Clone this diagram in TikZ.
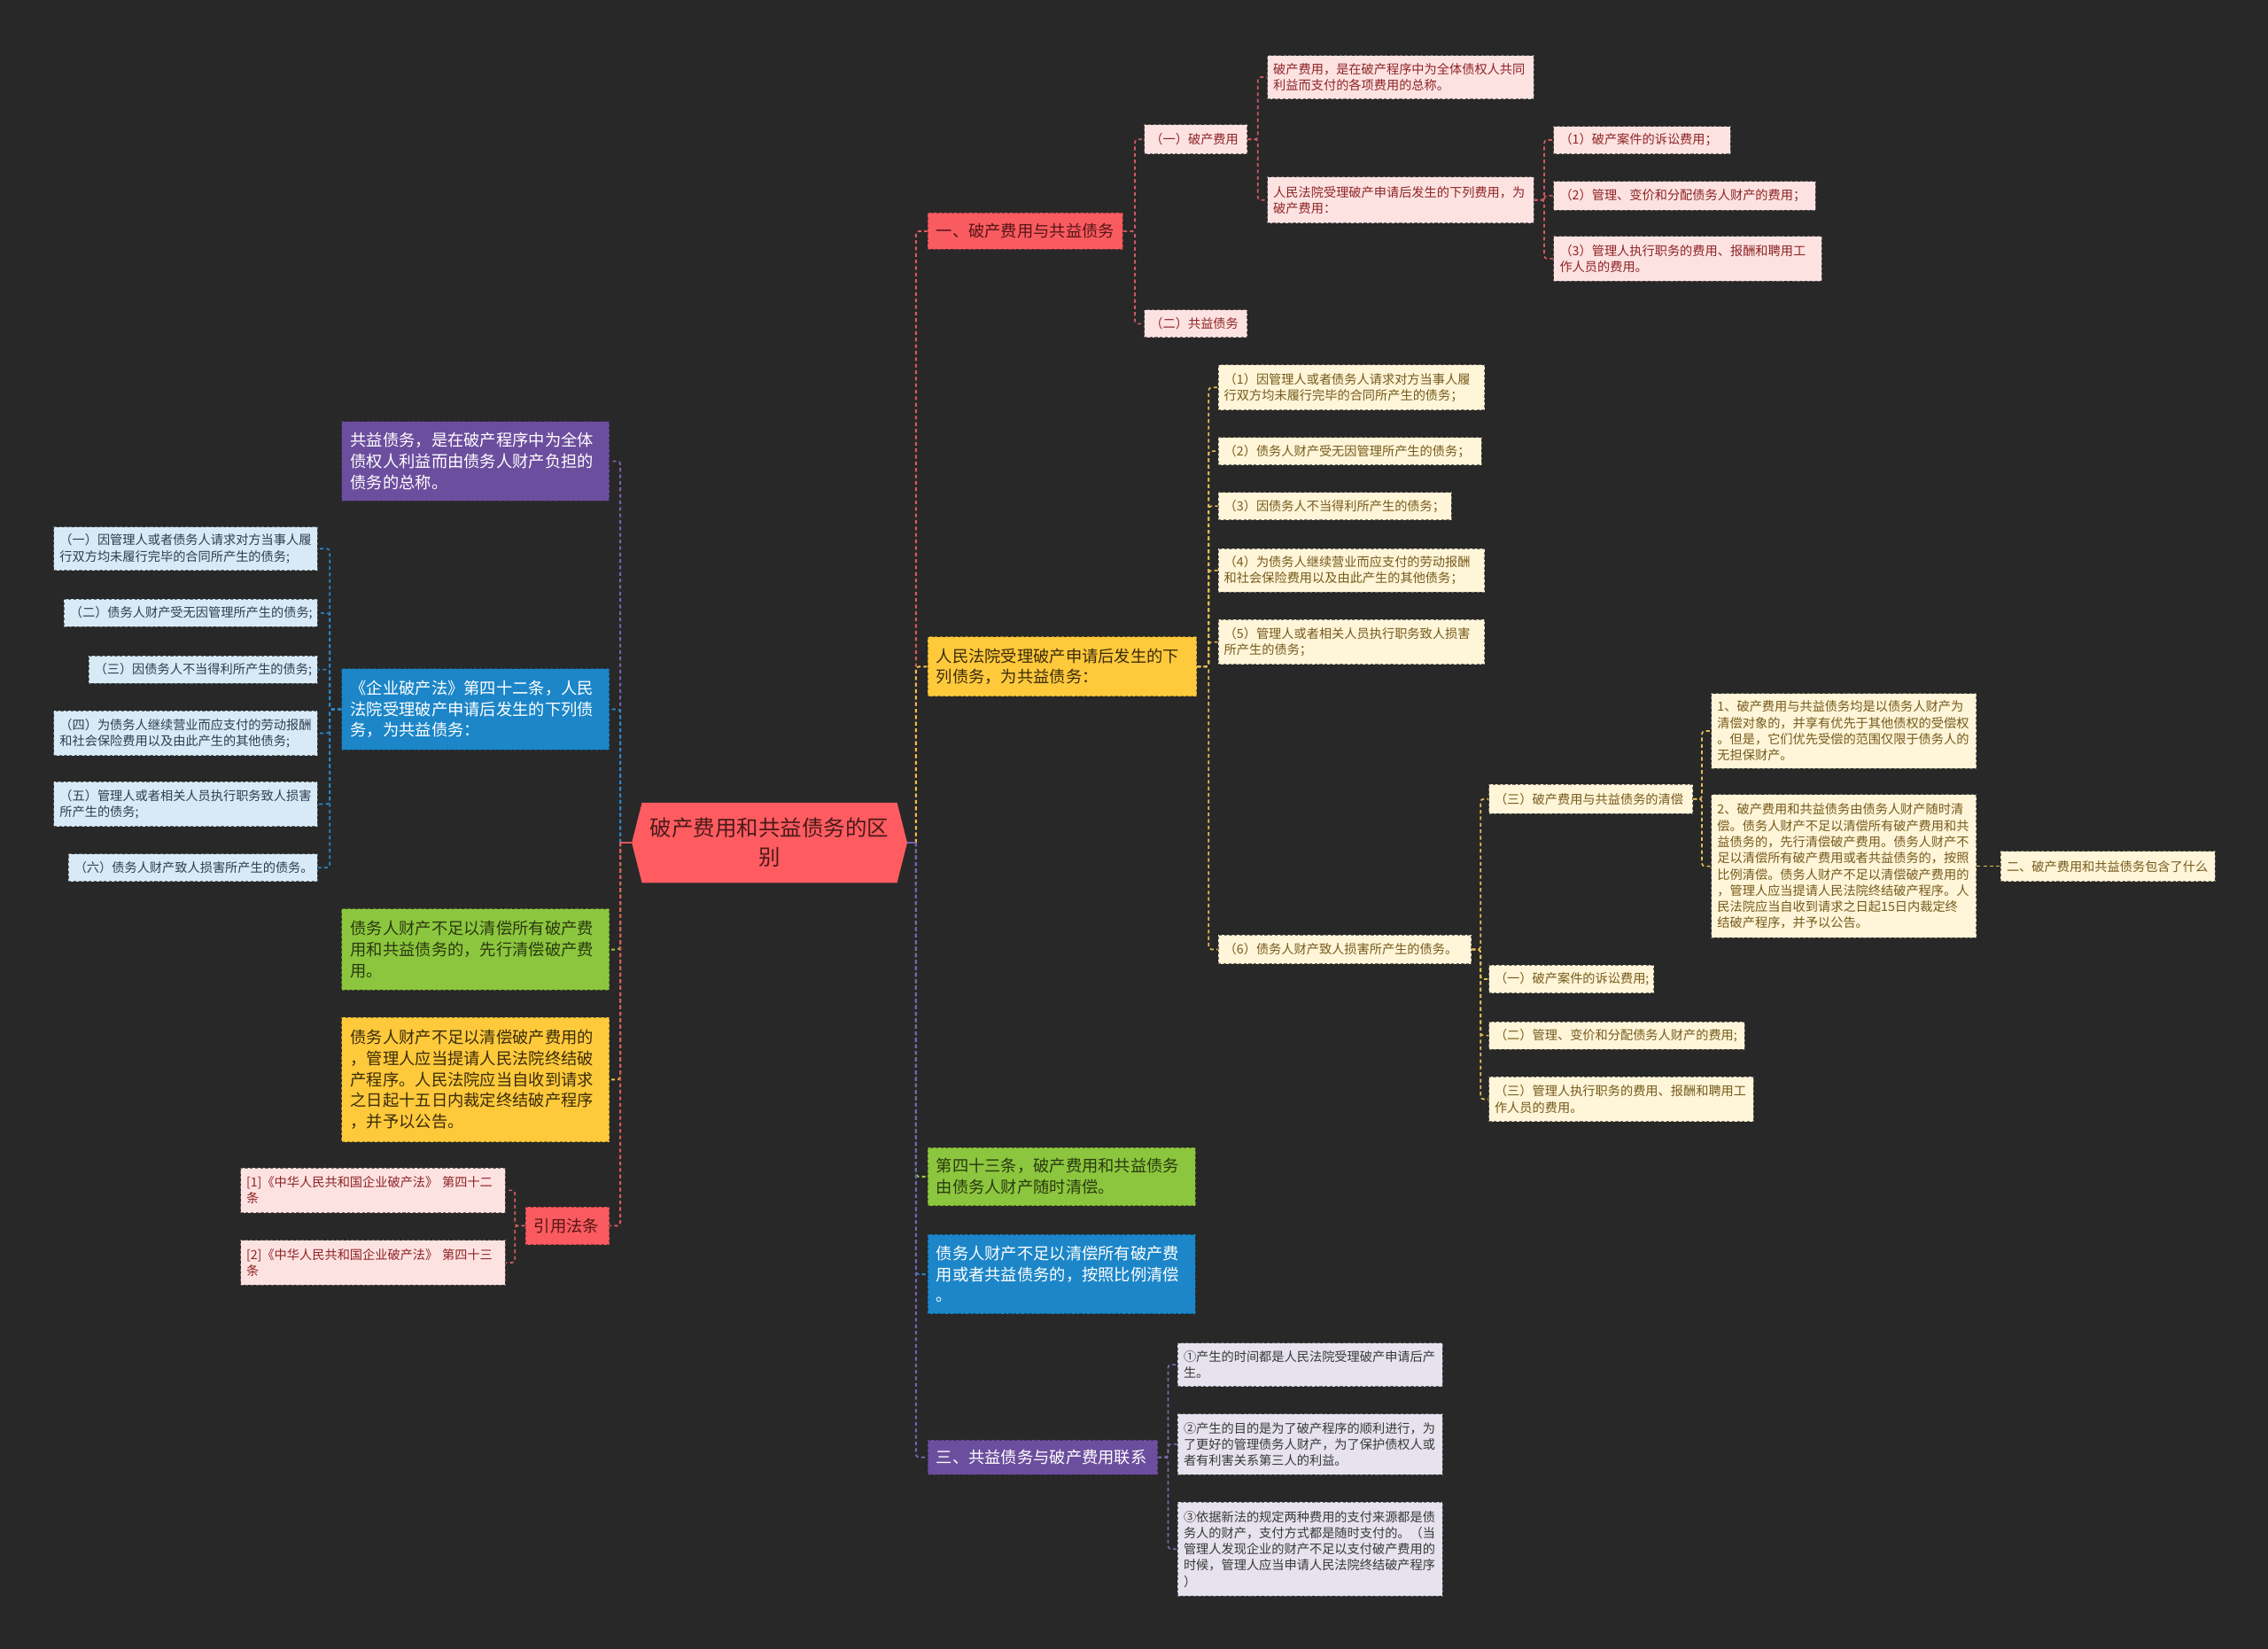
\documentclass[tikz,border=0pt]{standalone}
\usepackage{fontspec}
\setmainfont{Noto Sans CJK SC}
\usetikzlibrary{backgrounds}
\definecolor{bgc}{HTML}{282828}
\definecolor{cCen}{HTML}{FF5C61}
\definecolor{cRed}{HTML}{F95B60}
\definecolor{cPink}{HTML}{FDE2E2}
\definecolor{tPink}{HTML}{8E2424}
\definecolor{cYel}{HTML}{FFC93C}
\definecolor{cLY}{HTML}{FFF5D8}
\definecolor{tLY}{HTML}{765A1C}
\definecolor{cGrn}{HTML}{8CC63E}
\definecolor{cBlu}{HTML}{1C86C8}
\definecolor{cLB}{HTML}{D8EAF6}
\definecolor{tLB}{HTML}{2C3E50}
\definecolor{cPur}{HTML}{6C4E9E}
\definecolor{cLav}{HTML}{E6E2EE}
\definecolor{tLav}{HTML}{383838}
\definecolor{tRed}{HTML}{561515}
\definecolor{tYel}{HTML}{3A2C0A}
\definecolor{tGrn}{HTML}{2A3A10}
\definecolor{tCen}{HTML}{4A1A1A}
\definecolor{lRed}{HTML}{E0575E}
\definecolor{lRed2}{HTML}{D05A62}
\definecolor{lYel}{HTML}{F2C241}
\definecolor{lYel2}{HTML}{E3BE55}
\definecolor{lGrn}{HTML}{9ACD3C}
\definecolor{lBlu}{HTML}{2A88CC}
\definecolor{lPur}{HTML}{7563AE}
\definecolor{lPur2}{HTML}{7B6AA6}
\tikzset{
  base/.style={anchor=north west, align=left, inner ysep=0pt, dash pattern=on 2pt off 1.5pt, line width=0.6pt},
  sm/.style={base, inner xsep=4pt, font=\fontsize{8.7}{11.2}\selectfont},
  lg/.style={base, inner xsep=6pt, font=\fontsize{11.2}{14.5}\selectfont},
  cnode/.style={align=center, inner xsep=8pt, inner ysep=0pt, text=tCen, font=\fontsize{15}{20.4}\selectfont},
  redb/.style={fill=cRed, draw=cRed!60!black, text=tRed},
  pinkb/.style={fill=cPink, draw=cPink!45!black, text=tPink},
  yelb/.style={fill=cYel, draw=cYel!60!black, text=tYel},
  lyb/.style={fill=cLY, draw=cLY!45!black, text=tLY},
  grnb/.style={fill=cGrn, draw=cGrn!60!black, text=tGrn},
  blub/.style={fill=cBlu, draw=cBlu!60!black, text=white},
  lbb/.style={fill=cLB, draw=cLB!45!black, text=tLB},
  purb/.style={fill=cPur, draw=cPur!60!black, text=white},
  lavb/.style={fill=cLav, draw=cLav!45!black, text=tLav},
  conn/.style={dash pattern=on 2.5pt off 2pt, line width=1pt, rounded corners=2pt},
  mconn/.style={conn, line width=1.2pt},
}
\begin{document}
\begin{tikzpicture}[x=1pt, y=-1pt]
\begin{scope}[on background layer]
\fill[bgc] (0,0) rectangle (1568,1139.86);
\end{scope}
\useasboundingbox (0,0) rectangle (1568,1139.86);

% center
\node[cnode, text width=174pt, minimum width=190pt, minimum height=55pt] (c) at (532,582.5) {破产费用和共益债务的区\\别};

% right level 1
\node[lg, redb, text width=123pt, minimum height=25pt] (r1) at (641,147) {一、破产费用与共益债务};
\node[lg, yelb, text width=174pt, minimum height=41pt] (r2) at (641,440) {人民法院受理破产申请后发生的下\\列债务，为共益债务：};
\node[lg, grnb, text width=173pt, minimum height=40pt] (r3) at (641,793) {第四十三条，破产费用和共益债务\\由债务人财产随时清偿。};
\node[lg, blub, text width=173pt, minimum height=55pt] (r4) at (641,853) {债务人财产不足以清偿所有破产费\\用或者共益债务的，按照比例清偿\\。};
\node[lg, purb, text width=147pt, minimum height=24pt] (r5) at (641,995) {三、共益债务与破产费用联系};

% R1 group
\node[sm, pinkb, text width=63pt, minimum height=20pt] (r1a) at (791,86) {（一）破产费用};
\node[sm, pinkb, text width=63pt, minimum height=19pt] (r1b) at (791,214) {（二）共益债务};
\node[sm, pinkb, text width=176pt, minimum height=30pt] (r1a1) at (876,38) {破产费用，是在破产程序中为全体债权人共同\\利益而支付的各项费用的总称。};
\node[sm, pinkb, text width=176pt, minimum height=32pt] (r1a2) at (876,122) {人民法院受理破产申请后发生的下列费用，为\\破产费用：};
\node[sm, pinkb, text width=114pt, minimum height=19pt] (f1) at (1074,87) {（1）破产案件的诉讼费用；};
\node[sm, pinkb, text width=173pt, minimum height=20pt] (f2) at (1074,125) {（2）管理、变价和分配债务人财产的费用；};
\node[sm, pinkb, text width=177pt, minimum height=31pt] (f3) at (1074,163) {（3）管理人执行职务的费用、报酬和聘用工\\作人员的费用。};

% R2 group
\node[sm, lyb, text width=176pt, minimum height=31pt] (y1) at (842,252) {（1）因管理人或者债务人请求对方当事人履\\行双方均未履行完毕的合同所产生的债务；};
\node[sm, lyb, text width=174pt, minimum height=19pt] (y2) at (842,302) {（2）债务人财产受无因管理所产生的债务；};
\node[sm, lyb, text width=153pt, minimum height=19pt] (y3) at (842,340) {（3）因债务人不当得利所产生的债务；};
\node[sm, lyb, text width=176pt, minimum height=30pt] (y4) at (842,379) {（4）为债务人继续营业而应支付的劳动报酬\\和社会保险费用以及由此产生的其他债务；};
\node[sm, lyb, text width=176pt, minimum height=31pt] (y5) at (842,428) {（5）管理人或者相关人员执行职务致人损害\\所产生的债务；};
\node[sm, lyb, text width=167pt, minimum height=20pt] (y6) at (842,646) {（6）债务人财产致人损害所产生的债务。};
\node[sm, lyb, text width=133pt, minimum height=20pt] (y6a) at (1029,542) {（三）破产费用与共益债务的清偿};
\node[sm, lyb, text width=106pt, minimum height=19pt] (y6b) at (1029,667) {（一）破产案件的诉讼费用;};
\node[sm, lyb, text width=169pt, minimum height=19pt] (y6c) at (1029,706) {（二）管理、变价和分配债务人财产的费用;};
\node[sm, lyb, text width=175pt, minimum height=31pt] (y6d) at (1029,744) {（三）管理人执行职务的费用、报酬和聘用工\\作人员的费用。};
\node[sm, lyb, text width=175pt, minimum height=52pt] (q1) at (1183,479) {1、破产费用与共益债务均是以债务人财产为\\清偿对象的，并享有优先于其他债权的受偿权\\。但是，它们优先受偿的范围仅限于债务人的\\无担保财产。};
\node[sm, lyb, text width=175pt, minimum height=99pt] (q2) at (1183,549) {2、破产费用和共益债务由债务人财产随时清\\偿。债务人财产不足以清偿所有破产费用和共\\益债务的，先行清偿破产费用。债务人财产不\\足以清偿所有破产费用或者共益债务的，按照\\比例清偿。债务人财产不足以清偿破产费用的\\，管理人应当提请人民法院终结破产程序。人\\民法院应当自收到请求之日起15日内裁定终\\结破产程序，并予以公告。};
\node[sm, lyb, text width=140pt, minimum height=21pt] (q3) at (1383,588) {二、破产费用和共益债务包含了什么};

% R5 group
\node[sm, lavb, text width=175pt, minimum height=30pt] (p1) at (814,928) {①产生的时间都是人民法院受理破产申请后产\\生。};
\node[sm, lavb, text width=175pt, minimum height=42pt] (p2) at (814,977) {②产生的目的是为了破产程序的顺利进行，为\\了更好的管理债务人财产，为了保护债权人或\\者有利害关系第三人的利益。};
\node[sm, lavb, text width=175pt, minimum height=65pt] (p3) at (814,1038) {③依据新法的规定两种费用的支付来源都是债\\务人的财产，支付方式都是随时支付的。（当\\管理人发现企业的财产不足以支付破产费用的\\时候，管理人应当申请人民法院终结破产程序\\）};

% left level 1
\node[lg, purb, text width=173pt, minimum height=55pt] (l1) at (236,291) {共益债务，是在破产程序中为全体\\债权人利益而由债务人财产负担的\\债务的总称。};
\node[lg, blub, text width=173pt, minimum height=56pt] (l2) at (236,462) {《企业破产法》第四十二条，人民\\法院受理破产申请后发生的下列债\\务，为共益债务：};
\node[lg, grnb, text width=173pt, minimum height=56pt] (l3) at (236,628) {债务人财产不足以清偿所有破产费\\用和共益债务的，先行清偿破产费\\用。};
\node[lg, yelb, text width=173pt, minimum height=86pt] (l4) at (236,703) {债务人财产不足以清偿破产费用的\\，管理人应当提请人民法院终结破\\产程序。人民法院应当自收到请求\\之日起十五日内裁定终结破产程序\\，并予以公告。};
\node[lg, redb, text width=46pt, minimum height=26pt] (l5) at (363,834) {引用法条};

% L2 group
\node[sm, lbb, text width=174pt, minimum height=30pt] (b1) at (37,364) {（一）因管理人或者债务人请求对方当事人履\\行双方均未履行完毕的合同所产生的债务;};
\node[sm, lbb, text width=167pt, minimum height=19pt] (b2) at (44,414) {（二）债务人财产受无因管理所产生的债务;};
\node[sm, lbb, text width=150pt, minimum height=19pt] (b3) at (61,453) {（三）因债务人不当得利所产生的债务;};
\node[sm, lbb, text width=174pt, minimum height=31pt] (b4) at (37,491) {（四）为债务人继续营业而应支付的劳动报酬\\和社会保险费用以及由此产生的其他债务;};
\node[sm, lbb, text width=174pt, minimum height=31pt] (b5) at (37,540) {（五）管理人或者相关人员执行职务致人损害\\所产生的债务;};
\node[sm, lbb, text width=164pt, minimum height=19pt] (b6) at (47,590) {（六）债务人财产致人损害所产生的债务。};

% L5 group
\node[sm, pinkb, text width=175pt, minimum height=31pt] (c1) at (166,807) {[1]《中华人民共和国企业破产法》~第四十二\\条};
\node[sm, pinkb, text width=175pt, minimum height=31pt] (c2) at (166,857) {[2]《中华人民共和国企业破产法》~第四十三\\条};

\begin{scope}[on background layer]
% center hexagon
\fill[cCen] ([xshift=7pt]c.north west) -- ([xshift=-7pt]c.north east) -- (c.east) -- ([xshift=-7pt]c.south east) -- ([xshift=7pt]c.south west) -- (c.west) -- cycle;
% right main
\draw[mconn, lRed] ([xshift=6pt]c.east) |- (r1.west);
\draw[mconn, lYel] ([xshift=6pt]c.east) |- (r2.west);
\draw[mconn, lGrn] ([xshift=6pt]c.east) |- (r3.west);
\draw[mconn, lBlu] ([xshift=6pt]c.east) |- (r4.west);
\draw[mconn, lPur] ([xshift=6pt]c.east) |- (r5.west);
\draw[line width=1.2pt, lPur] (c.east) -- ([xshift=6pt]c.east);
% left main
\draw[mconn, lPur] ([xshift=-8pt]c.west) |- (l1.east);
\draw[mconn, lBlu] ([xshift=-8pt]c.west) |- (l2.east);
\draw[mconn, lGrn] ([xshift=-8pt]c.west) |- (l3.east);
\draw[mconn, lYel] ([xshift=-8pt]c.west) |- (l4.east);
\draw[mconn, lRed] ([xshift=-8pt]c.west) |- (l5.east);
\draw[line width=1.2pt, lRed] (c.west) -- ([xshift=-8pt]c.west);
% R1 group
\foreach \n in {r1a,r1b} \draw[conn, lRed2] (r1.east) -- ++(8,0) |- (\n.west);
\foreach \n in {r1a1,r1a2} \draw[conn, lRed2] (r1a.east) -- ++(7,0) |- (\n.west);
\foreach \n in {f1,f2,f3} \draw[conn, lRed2] (r1a2.east) -- ++(7,0) |- (\n.west);
% R2 group
\foreach \n in {y1,y2,y3,y4,y5,y6} \draw[conn, lYel2] (r2.east) -- ++(8,0) |- (\n.west);
\foreach \n in {y6a,y6b,y6c,y6d} \draw[conn, lYel2] (y6.east) -- ++(6,0) |- (\n.west);
\foreach \n in {q1,q2} \draw[conn, lYel2] (y6a.east) -- ++(6,0) |- (\n.west);
\draw[conn, lYel2] (q2.east) -- (q3.west);
% R5 group
\foreach \n in {p1,p2,p3} \draw[conn, lPur2] (r5.east) -- ++(7,0) |- (\n.west);
% L2 group
\foreach \n in {b1,b2,b3,b4,b5,b6} \draw[conn, lBlu] (l2.west) -- ++(-8,0) |- (\n.east);
% L5 group
\foreach \n in {c1,c2} \draw[conn, lRed2] (l5.west) -- ++(-7,0) |- (\n.east);
\end{scope}
\end{tikzpicture}
\end{document}
